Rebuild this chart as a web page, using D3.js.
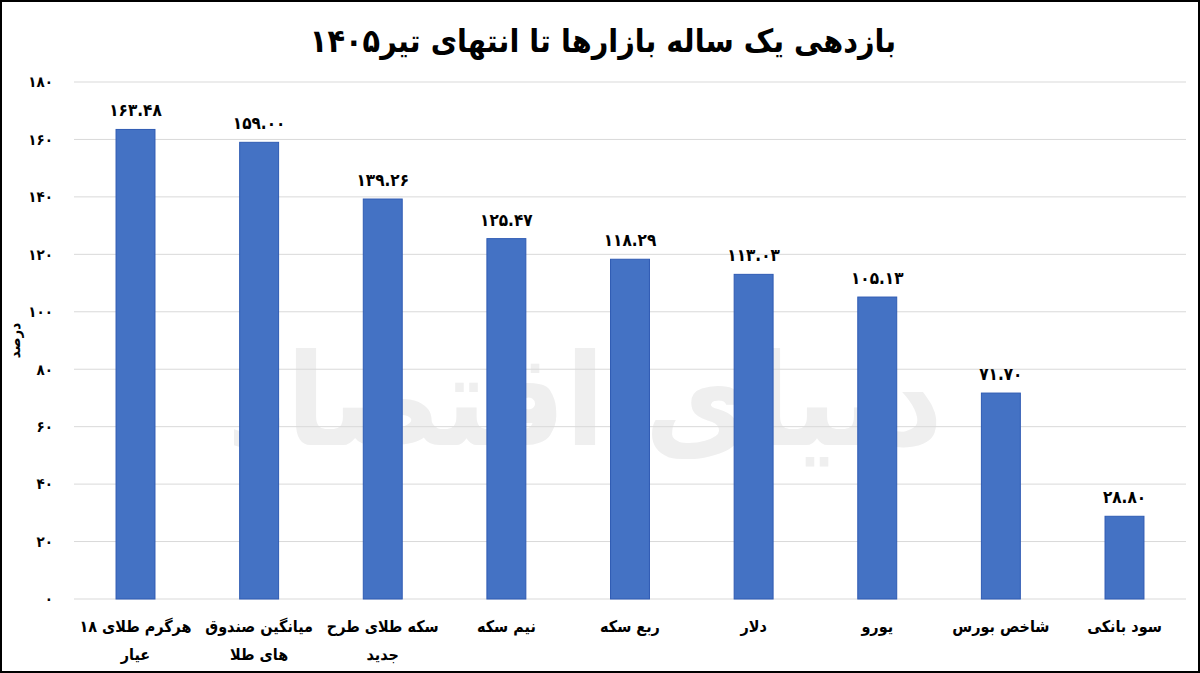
<!DOCTYPE html>
<html><head><meta charset="utf-8">
<script src="https://cdn.jsdelivr.net/npm/d3@7"></script>
<style>
html,body{margin:0;padding:0;background:#fff;}
svg{display:block;font-family:"DejaVu Sans Condensed","DejaVu Sans",sans-serif;font-stretch:condensed;}
</style></head>
<body>
<svg id="chart" width="1200" height="673"></svg>
<script>
const title = "بازدهی یک ساله بازارها تا انتهای تیر۱۴۰۵";
const yAxisTitle = "درصد";
const watermark = "دنیای اقتصاد";
const categories = [
  "هرگرم طلای ۱۸\nعیار",
  "میانگین صندوق\nهای طلا",
  "سکه طلای طرح\nجدید",
  "نیم سکه",
  "ربع سکه",
  "دلار",
  "یورو",
  "شاخص بورس",
  "سود بانکی"
];
const values = [163.48, 159.00, 139.26, 125.47, 118.29, 113.03, 105.13, 71.70, 28.80];
const yTicks = [0, 20, 40, 60, 80, 100, 120, 140, 160, 180];

const fa = s => String(s).replace(/[0-9]/g, d => "۰۱۲۳۴۵۶۷۸۹"[+d]);

const W = 1200, H = 673;
const margin = {left: 74, right: 14, top: 82, bottom: 74};
const svg = d3.select("#chart");

svg.append("rect").attr("x",1).attr("y",1).attr("width",W-2).attr("height",H-2)
  .attr("fill","#fff").attr("stroke","#000").attr("stroke-width",2);

const x = d3.scaleBand().domain(categories).range([margin.left, W - margin.right]).paddingInner(0.685).paddingOuter(0.34);
const y = d3.scaleLinear().domain([0,180]).range([H - margin.bottom, margin.top]);

// watermark
svg.append("text").attr("x", 585).attr("y", 445).attr("text-anchor","middle")
  .attr("direction","rtl")
  .attr("font-size", 128).attr("font-weight","bold").attr("fill","#efefef")
  .text(watermark);

// gridlines
svg.append("g").selectAll("line").data(yTicks).join("line")
  .attr("x1", margin.left).attr("x2", W - margin.right)
  .attr("y1", d => y(d)).attr("y2", d => y(d))
  .attr("stroke", "#d9d9d9").attr("stroke-width", 1);

// y axis labels
const yAxis = d3.axisLeft(y).tickValues(yTicks).tickSize(0).tickFormat(d => fa(d));
const gy = svg.append("g").attr("transform", `translate(${margin.left - 18},0)`).call(yAxis);
gy.select(".domain").remove();
gy.selectAll("text").attr("font-size", 15).attr("font-weight","bold").attr("fill","#000")
  .attr("font-family","DejaVu Sans Condensed, DejaVu Sans").attr("text-anchor","end").attr("dx",0);

svg.append("text").attr("transform", `translate(20,${y(90)}) rotate(-90)`)
  .attr("text-anchor","middle").attr("font-size", 15).attr("font-weight","bold")
  .attr("direction","rtl").text(yAxisTitle);

// bars
svg.append("g").selectAll("rect").data(values).join("rect")
  .attr("x", (d,i) => x(categories[i])).attr("width", x.bandwidth())
  .attr("y", d => y(d)).attr("height", d => y(0) - y(d))
  .attr("fill", "#4472c4").attr("stroke", "#2f5bb3").attr("stroke-width", 1);

// data labels
svg.append("g").selectAll("text").data(values).join("text")
  .attr("x", (d,i) => x(categories[i]) + x.bandwidth()/2)
  .attr("y", d => y(d) - 13)
  .attr("text-anchor","middle").attr("font-size", 17).attr("font-weight","bold")
  .text(d => fa(d.toFixed(2)));

// category labels
const cg = svg.append("g");
categories.forEach(c => {
  const lines = c.split("\n");
  const t = cg.append("text").attr("text-anchor","middle").attr("font-size",16)
    .attr("font-weight","bold").attr("direction","rtl");
  lines.forEach((ln, j) => {
    t.append("tspan").attr("x", x(c) + x.bandwidth()/2).attr("y", 632 + j*28).text(ln);
  });
});

// title
svg.append("text").attr("x", 603).attr("y", 52).attr("text-anchor","middle")
  .attr("direction","rtl").attr("font-size", 32).attr("font-weight","bold")
  .text(title);
</script>
</body></html>
